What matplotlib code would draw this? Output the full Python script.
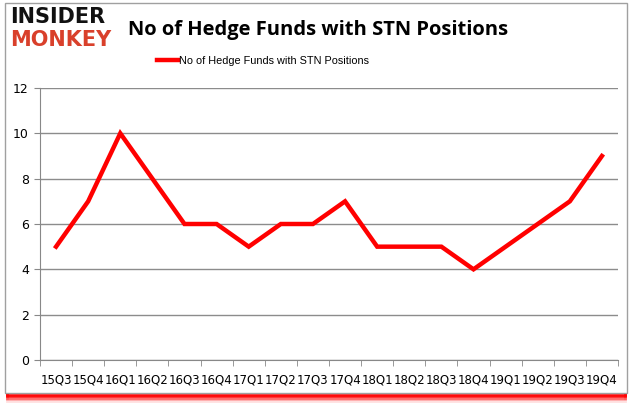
import numpy as np
import matplotlib.pyplot as plt
from matplotlib.patches import Rectangle

quarters = ["15Q3", "15Q4", "16Q1", "16Q2", "16Q3", "16Q4", "17Q1", "17Q2", "17Q3",
            "17Q4", "18Q1", "18Q2", "18Q3", "18Q4", "19Q1", "19Q2", "19Q3", "19Q4"]
funds = [5, 7, 10, 8, 6, 6, 5, 6, 6, 7, 5, 5, 5, 4, 5, 6, 7, 9]
yticks = [0, 2, 4, 6, 8, 10, 12]

W, H = 635, 405
fig = plt.figure(figsize=(W / 100, H / 100), dpi=100)

# cadre avec ombre rouge en bas
for i, a in enumerate([0.12, 0.25, 0.45, 0.7, 0.9]):
    fig.patches.append(Rectangle((7 / W, (4 + 1.6 * i) / H), 618 / W, 390 / H,
                                 transform=fig.transFigure, facecolor="none",
                                 edgecolor=(1, 0, 0, a), linewidth=2, zorder=-3))
fig.patches.append(Rectangle((5 / W, 12 / H), 622 / W, 390 / H, transform=fig.transFigure,
                             facecolor="white", edgecolor="#a0a0a0", linewidth=1.0, zorder=-2))

ax = fig.add_axes([40 / W, (H - 360) / H, 578 / W, 272 / H])
ax.patch.set_alpha(0)
x = np.arange(len(quarters))
ax.plot(x, funds, color="#ff0000", linewidth=3.2, solid_joinstyle="miter",
        label="No of Hedge Funds with STN Positions")

ax.set_xlim(-0.5, len(quarters) - 0.5)
ax.set_ylim(0, 12)
ax.set_yticks(yticks)
ax.set_xticks(x)
ax.set_xticklabels(quarters)
ax.set_xticks(np.arange(-0.5, len(quarters), 1), minor=True)
ax.tick_params(axis="x", which="major", length=0, pad=10, labelsize=8.5)
ax.tick_params(axis="x", which="minor", length=4, color="#888888")
ax.tick_params(axis="y", length=4, color="#888888", labelsize=9, pad=4)
ax.grid(axis="y", color="#8c8c8c", linewidth=1)
ax.set_axisbelow(True)
for s in ["top", "right"]:
    ax.spines[s].set_visible(False)
for s in ["left", "bottom"]:
    ax.spines[s].set_color("#888888")

ax.legend(loc="upper center", bbox_to_anchor=((263 - 40) / 578, 1.155), frameon=False,
          prop={"family": "Liberation Sans", "size": 7.8},
          handlelength=1.9, handletextpad=0.1)

fig.text(128 / W, 1 - 30 / H, "No of Hedge Funds with STN Positions", fontsize=14.5,
         fontweight="bold", va="center", ha="left", family="Open Sans")
fig.text(10 / W, 1 - 17 / H, "INSIDER", fontsize=15, fontweight="heavy", va="center",
         ha="left", color="#111111", family="DejaVu Sans")
fig.text(10 / W, 1 - 40 / H, "MONKEY", fontsize=15, fontweight="heavy", va="center",
         ha="left", color="#d9402b", family="DejaVu Sans")

plt.savefig("out.png", dpi=100)
